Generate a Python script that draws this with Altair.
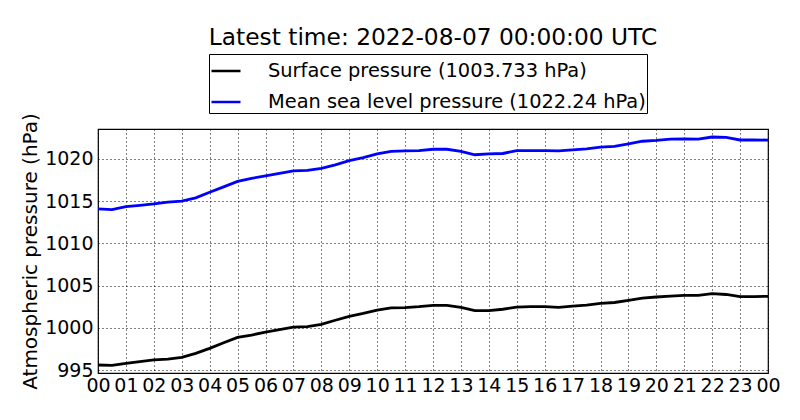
import altair as alt
import pandas as pd

hours = [i * 0.5 for i in range(49)]

surface = [995.60, 995.55, 995.80, 996.00, 996.20, 996.30, 996.50, 996.97, 997.57, 998.24,
           998.87, 999.15, 999.50, 999.80, 1000.08, 1000.15, 1000.40, 1000.90, 1001.35, 1001.70,
           1002.10, 1002.37, 1002.40, 1002.50, 1002.67, 1002.65, 1002.43, 1002.03, 1002.03, 1002.20,
           1002.46, 1002.50, 1002.50, 1002.43, 1002.58, 1002.70, 1002.90, 1003.00, 1003.26, 1003.53,
           1003.65, 1003.75, 1003.85, 1003.85, 1004.04, 1003.95, 1003.70, 1003.70, 1003.73]
mslp = [1014.08, 1014.00, 1014.35, 1014.50, 1014.67, 1014.90, 1015.00, 1015.40, 1016.05, 1016.70,
        1017.35, 1017.70, 1018.00, 1018.30, 1018.60, 1018.65, 1018.90, 1019.30, 1019.80, 1020.15,
        1020.60, 1020.90, 1020.95, 1021.00, 1021.15, 1021.15, 1020.90, 1020.50, 1020.60, 1020.65,
        1021.00, 1021.00, 1021.00, 1020.95, 1021.07, 1021.20, 1021.40, 1021.50, 1021.80, 1022.10,
        1022.20, 1022.35, 1022.37, 1022.35, 1022.60, 1022.55, 1022.25, 1022.25, 1022.24]

series_names = ["Surface pressure (1003.733 hPa)", "Mean sea level pressure (1022.24 hPa)"]
series_colors = ["#000000", "#0000ff"]
hour_ticks = list(range(25))
y_ticks = [995, 1000, 1005, 1010, 1015, 1020]

rows = []
for h, v in zip(hours, surface):
    rows.append({"hour": h, "pressure": v, "series": series_names[0]})
for h, v in zip(hours, mslp):
    rows.append({"hour": h, "pressure": v, "series": series_names[1]})
df = pd.DataFrame(rows)

FONT = "DejaVu Sans"

chart = alt.Chart(df).mark_line(strokeWidth=2.8, interpolate="linear").encode(
    x=alt.X("hour:Q",
            scale=alt.Scale(domain=[0, 24], nice=False, zero=False),
            axis=alt.Axis(values=hour_ticks, title=None,
                          labelExpr="(datum.value % 24 < 10 ? '0' : '') + (datum.value % 24)",
                          labelPadding=3, ticks=False, labelFlush=False)),
    y=alt.Y("pressure:Q",
            scale=alt.Scale(domain=[994.65, 1023.55], nice=False, zero=False),
            axis=alt.Axis(values=y_ticks, format="d", title="Atmospheric pressure (hPa)",
                          labelPadding=5, ticks=False, titlePadding=4,
                          titleFontSize=20, titleFontWeight="normal")),
    color=alt.Color("series:N",
                    scale=alt.Scale(domain=series_names, range=series_colors),
                    sort=series_names,
                    legend=alt.Legend(title=None, orient="none", legendX=111, legendY=-75,
                                      symbolType="stroke", symbolSize=841,
                                      symbolStrokeWidth=2.5, labelFontSize=19.4,
                                      labelFont=FONT, labelColor="black", labelLimit=600,
                                      strokeColor="black", fillColor="white",
                                      padding=1, rowPadding=5, cornerRadius=0,
                                      labelOffset=26)),
    detail="series:N",
).properties(
    width=670,
    height=244,
    background="white",
    title=alt.TitleParams("Latest time: 2022-08-07 00:00:00 UTC", fontSize=23.3,
                          font=FONT, fontWeight="normal", color="black",
                          anchor="middle", frame="group", offset=3),
    autosize=alt.AutoSizeParams(type="none"),
    padding={"left": 90, "top": 121, "right": 24, "bottom": 39},
).configure_view(
    stroke="black", strokeWidth=1.2
).configure_axis(
    labelFont=FONT, titleFont=FONT, labelFontSize=19, labelColor="black",
    titleColor="black", grid=True, gridColor="black", gridDash=[1, 3],
    gridOpacity=1, gridWidth=1, domain=False
)

chart.save("out.html", embed_options={"renderer": "svg", "actions": False})
